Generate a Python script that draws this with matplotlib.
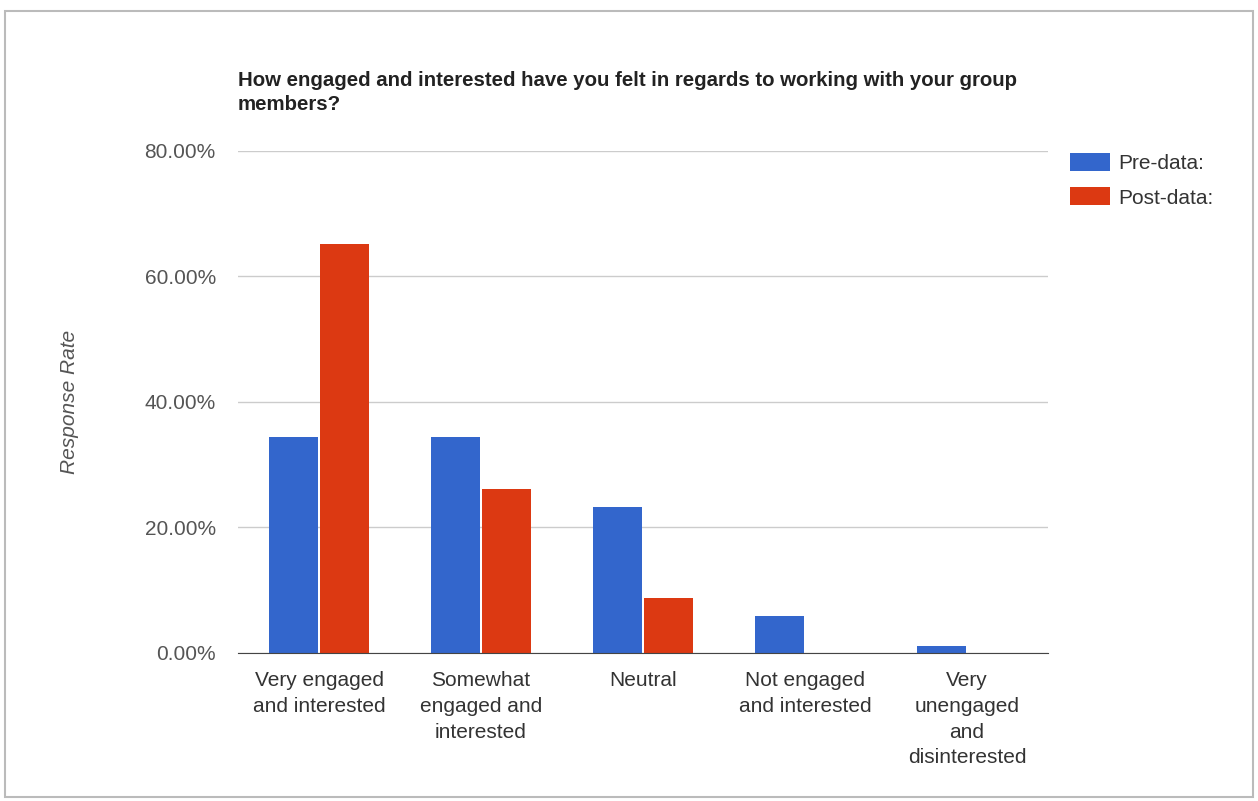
import matplotlib.pyplot as plt
import numpy as np
from matplotlib.patches import Rectangle

plt.rcParams['font.family'] = ['Liberation Sans', 'DejaVu Sans']

categorias = ['Very engaged\nand interested', 'Somewhat\nengaged and\ninterested', 'Neutral',
              'Not engaged\nand interested', 'Very\nunengaged\nand\ndisinterested']
pre = [34.4, 34.4, 23.3, 5.9, 1.1]
post = [65.2, 26.1, 8.7, 0.0, 0.0]
yticks = [0, 20, 40, 60, 80]

fig = plt.figure(figsize=(12.58, 8.01), dpi=100)
ax = fig.add_axes([0.1892, 0.1848, 0.6439, 0.6267])

x = np.arange(len(categorias))
w = 0.30
ax.bar(x - w / 2 - 0.006, pre, w, color='#3366cc', label='Pre-data:', zorder=3)
ax.bar(x + w / 2 + 0.006, post, w, color='#dc3912', label='Post-data:', zorder=3)

ax.set_xlim(-0.5, 4.5)
ax.set_ylim(0, 80)
ax.set_yticks(yticks)
ax.set_yticklabels([f'{v:.2f}%' for v in yticks], color='#555555', fontsize=15)
ax.set_xticks(x)
ax.set_xticklabels(categorias, color='#333333', fontsize=15, linespacing=1.45, va='top')
ax.tick_params(axis='both', length=0)
ax.tick_params(axis='y', pad=16)
ax.tick_params(axis='x', pad=13)
ax.grid(axis='y', color='#cccccc', linewidth=1, zorder=0)
for s in ['top', 'right', 'left']:
    ax.spines[s].set_visible(False)
ax.spines['bottom'].set_color('#444444')
ax.spines['bottom'].set_zorder(4)

ax.set_ylabel('Response Rate', style='italic', color='#555555', fontsize=15, labelpad=47)

fig.text(238 / 1258, 1 - 71 / 801,
         'How engaged and interested have you felt in regards to working with your group\nmembers?',
         ha='left', va='top', fontsize=14.7, fontweight='bold', color='#222222', linespacing=1.32)

ax.legend(loc='upper left', bbox_to_anchor=(1.004, 1.033), frameon=False, fontsize=15,
          handlelength=1.92, handleheight=0.96, handletextpad=0.4, labelspacing=0.67,
          labelcolor='#333333')

# marco alrededor de la figura
fig.patches.append(Rectangle((5 / 1258, 4 / 801), 1248 / 1258, 786 / 801, transform=fig.transFigure,
                             fill=False, edgecolor='#bbbbbb', linewidth=1.5))

plt.savefig('out.png', dpi=100)
